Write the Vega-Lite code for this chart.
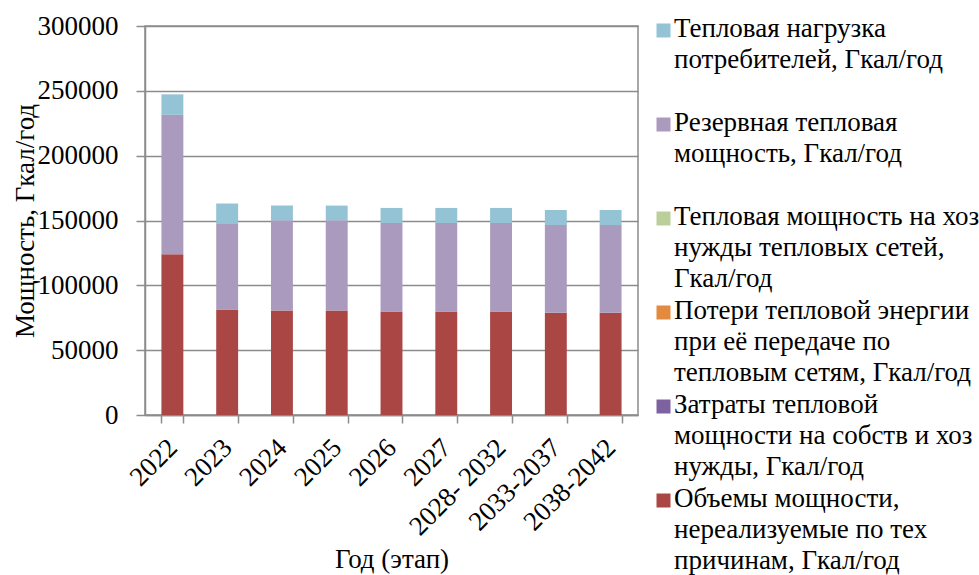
{
  "$schema": "https://vega.github.io/schema/vega-lite/v6.json",
  "width": 493,
  "height": 389,
  "autosize": {"type": "none"},
  "padding": {"left": 145, "top": 26, "right": 341, "bottom": 160},
  "background": "white",
  "config": {
    "font": "'Liberation Serif', 'Times New Roman', 'DejaVu Serif', serif",
    "view": {"stroke": "#8c8c8c", "strokeWidth": 1.5},
    "axis": {"labelFont": "'Liberation Serif', 'Times New Roman', 'DejaVu Serif', serif", "titleFont": "'Liberation Serif', 'Times New Roman', 'DejaVu Serif', serif", "labelFontSize": 27, "titleFontSize": 27, "titleFontWeight": "normal", "labelColor": "#000000", "titleColor": "#000000", "domainColor": "#8c8c8c", "tickColor": "#8c8c8c", "gridColor": "#8c8c8c", "domainWidth": 1.5, "tickWidth": 1.5, "gridWidth": 1.5},
    "legend": {"labelFont": "'Liberation Serif', 'Times New Roman', 'DejaVu Serif', serif", "labelFontSize": 27, "labelColor": "#000000"}
  },
  "data": {
    "values": [
      {"year": "2022", "series": "Объемы мощности, нереализуемые по тех причинам, Гкал/год", "value": 124000},
      {"year": "2022", "series": "Затраты тепловой мощности на собств и хоз нужды, Гкал/год", "value": 0},
      {"year": "2022", "series": "Потери тепловой энергии при её передаче по тепловым сетям, Гкал/год", "value": 0},
      {"year": "2022", "series": "Тепловая мощность на хоз нужды тепловых сетей, Гкал/год", "value": 0},
      {"year": "2022", "series": "Резервная тепловая мощность, Гкал/год", "value": 107500},
      {"year": "2022", "series": "Тепловая нагрузка потребителей, Гкал/год", "value": 15800},
      {"year": "2023", "series": "Объемы мощности, нереализуемые по тех причинам, Гкал/год", "value": 81400},
      {"year": "2023", "series": "Затраты тепловой мощности на собств и хоз нужды, Гкал/год", "value": 0},
      {"year": "2023", "series": "Потери тепловой энергии при её передаче по тепловым сетям, Гкал/год", "value": 0},
      {"year": "2023", "series": "Тепловая мощность на хоз нужды тепловых сетей, Гкал/год", "value": 0},
      {"year": "2023", "series": "Резервная тепловая мощность, Гкал/год", "value": 65900},
      {"year": "2023", "series": "Тепловая нагрузка потребителей, Гкал/год", "value": 15800},
      {"year": "2024", "series": "Объемы мощности, нереализуемые по тех причинам, Гкал/год", "value": 80600},
      {"year": "2024", "series": "Затраты тепловой мощности на собств и хоз нужды, Гкал/год", "value": 0},
      {"year": "2024", "series": "Потери тепловой энергии при её передаче по тепловым сетям, Гкал/год", "value": 0},
      {"year": "2024", "series": "Тепловая мощность на хоз нужды тепловых сетей, Гкал/год", "value": 0},
      {"year": "2024", "series": "Резервная тепловая мощность, Гкал/год", "value": 69500},
      {"year": "2024", "series": "Тепловая нагрузка потребителей, Гкал/год", "value": 11400},
      {"year": "2025", "series": "Объемы мощности, нереализуемые по тех причинам, Гкал/год", "value": 80600},
      {"year": "2025", "series": "Затраты тепловой мощности на собств и хоз нужды, Гкал/год", "value": 0},
      {"year": "2025", "series": "Потери тепловой энергии при её передаче по тепловым сетям, Гкал/год", "value": 0},
      {"year": "2025", "series": "Тепловая мощность на хоз нужды тепловых сетей, Гкал/год", "value": 0},
      {"year": "2025", "series": "Резервная тепловая мощность, Гкал/год", "value": 69500},
      {"year": "2025", "series": "Тепловая нагрузка потребителей, Гкал/год", "value": 11400},
      {"year": "2026", "series": "Объемы мощности, нереализуемые по тех причинам, Гкал/год", "value": 79800},
      {"year": "2026", "series": "Затраты тепловой мощности на собств и хоз нужды, Гкал/год", "value": 0},
      {"year": "2026", "series": "Потери тепловой энергии при её передаче по тепловым сетям, Гкал/год", "value": 0},
      {"year": "2026", "series": "Тепловая мощность на хоз нужды тепловых сетей, Гкал/год", "value": 0},
      {"year": "2026", "series": "Резервная тепловая мощность, Гкал/год", "value": 68300},
      {"year": "2026", "series": "Тепловая нагрузка потребителей, Гкал/год", "value": 11600},
      {"year": "2027", "series": "Объемы мощности, нереализуемые по тех причинам, Гкал/год", "value": 79800},
      {"year": "2027", "series": "Затраты тепловой мощности на собств и хоз нужды, Гкал/год", "value": 0},
      {"year": "2027", "series": "Потери тепловой энергии при её передаче по тепловым сетям, Гкал/год", "value": 0},
      {"year": "2027", "series": "Тепловая мощность на хоз нужды тепловых сетей, Гкал/год", "value": 0},
      {"year": "2027", "series": "Резервная тепловая мощность, Гкал/год", "value": 68300},
      {"year": "2027", "series": "Тепловая нагрузка потребителей, Гкал/год", "value": 11600},
      {"year": "2028- 2032", "series": "Объемы мощности, нереализуемые по тех причинам, Гкал/год", "value": 79800},
      {"year": "2028- 2032", "series": "Затраты тепловой мощности на собств и хоз нужды, Гкал/год", "value": 0},
      {"year": "2028- 2032", "series": "Потери тепловой энергии при её передаче по тепловым сетям, Гкал/год", "value": 0},
      {"year": "2028- 2032", "series": "Тепловая мощность на хоз нужды тепловых сетей, Гкал/год", "value": 0},
      {"year": "2028- 2032", "series": "Резервная тепловая мощность, Гкал/год", "value": 68300},
      {"year": "2028- 2032", "series": "Тепловая нагрузка потребителей, Гкал/год", "value": 11600},
      {"year": "2033-2037", "series": "Объемы мощности, нереализуемые по тех причинам, Гкал/год", "value": 78800},
      {"year": "2033-2037", "series": "Затраты тепловой мощности на собств и хоз нужды, Гкал/год", "value": 0},
      {"year": "2033-2037", "series": "Потери тепловой энергии при её передаче по тепловым сетям, Гкал/год", "value": 0},
      {"year": "2033-2037", "series": "Тепловая мощность на хоз нужды тепловых сетей, Гкал/год", "value": 0},
      {"year": "2033-2037", "series": "Резервная тепловая мощность, Гкал/год", "value": 67700},
      {"year": "2033-2037", "series": "Тепловая нагрузка потребителей, Гкал/год", "value": 11600},
      {"year": "2038-2042", "series": "Объемы мощности, нереализуемые по тех причинам, Гкал/год", "value": 78800},
      {"year": "2038-2042", "series": "Затраты тепловой мощности на собств и хоз нужды, Гкал/год", "value": 0},
      {"year": "2038-2042", "series": "Потери тепловой энергии при её передаче по тепловым сетям, Гкал/год", "value": 0},
      {"year": "2038-2042", "series": "Тепловая мощность на хоз нужды тепловых сетей, Гкал/год", "value": 0},
      {"year": "2038-2042", "series": "Резервная тепловая мощность, Гкал/год", "value": 67700},
      {"year": "2038-2042", "series": "Тепловая нагрузка потребителей, Гкал/год", "value": 11600}
    ]
  },
  "mark": {"type": "bar"},
  "encoding": {
    "x": {
      "field": "year", "type": "nominal", "sort": null,
      "scale": {"paddingInner": 0.6, "paddingOuter": 0.3},
      "axis": {"title": "Год (этап)", "labelAngle": -45, "tickBand": "extent", "tickSize": 8, "labelPadding": 11, "labelOffset": -9, "titlePadding": 7, "grid": false}
    },
    "y": {
      "field": "value", "type": "quantitative", "stack": "zero",
      "scale": {"domain": [0, 300000], "nice": false},
      "axis": {"title": "Мощность, Гкал/год", "values": [0, 50000, 100000, 150000, 200000, 250000, 300000], "format": "d", "tickSize": 9, "labelPadding": 18, "titlePadding": -2, "grid": true}
    },
    "order": {"field": "series", "sort": "ascending"},
    "color": {
      "field": "series", "type": "nominal",
      "scale": {
        "domain": [
          "Тепловая нагрузка потребителей, Гкал/год",
          "Резервная тепловая мощность, Гкал/год",
          "Тепловая мощность на хоз нужды тепловых сетей, Гкал/год",
          "Потери тепловой энергии при её передаче по тепловым сетям, Гкал/год",
          "Затраты тепловой мощности на собств и хоз нужды, Гкал/год",
          "Объемы мощности, нереализуемые по тех причинам, Гкал/год"
        ],
        "range": ["#93C3D4", "#AA9BBE", "#BACF99", "#E48A3F", "#7E62A0", "#AA4644"]
      },
      "legend": {
        "title": null,
        "orient": "none",
        "legendX": 505,
        "legendY": -9,
        "padding": 0,
        "rowPadding": 3,
        "symbolType": "square",
        "symbolSize": 196,
        "symbolStrokeWidth": 0,
        "labelLimit": 340,
        "labelOffset": -3,
        "values": [
          "Тепловая нагрузка потребителей, Гкал/год",
          "Резервная тепловая мощность, Гкал/год",
          "Тепловая мощность на хоз нужды тепловых сетей, Гкал/год",
          "Потери тепловой энергии при её передаче по тепловым сетям, Гкал/год",
          "Затраты тепловой мощности на собств и хоз нужды, Гкал/год",
          "Объемы мощности, нереализуемые по тех причинам, Гкал/год"
        ],
        "labelExpr": "datum.label == 'Тепловая нагрузка потребителей, Гкал/год' ? ['Тепловая нагрузка', 'потребителей, Гкал/год', ' '] : datum.label == 'Резервная тепловая мощность, Гкал/год' ? ['Резервная тепловая', 'мощность, Гкал/год', ' '] : datum.label == 'Тепловая мощность на хоз нужды тепловых сетей, Гкал/год' ? ['Тепловая мощность на хоз', 'нужды тепловых сетей,', 'Гкал/год'] : datum.label == 'Потери тепловой энергии при её передаче по тепловым сетям, Гкал/год' ? ['Потери тепловой энергии', 'при её передаче по', 'тепловым сетям, Гкал/год'] : datum.label == 'Затраты тепловой мощности на собств и хоз нужды, Гкал/год' ? ['Затраты тепловой', 'мощности на собств и хоз', 'нужды, Гкал/год'] : ['Объемы мощности,', 'нереализуемые по тех', 'причинам, Гкал/год']",
        "encode": {"labels": {"update": {"lineHeight": {"value": 31.3}, "baseline": {"value": "top"}, "dy": {"value": -15}}}}
      }
    }
  }
}
